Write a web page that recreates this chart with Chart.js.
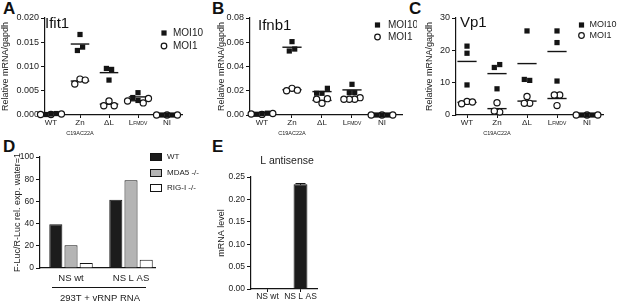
<!DOCTYPE html>
<html><head><meta charset="utf-8">
<script src="https://cdn.jsdelivr.net/npm/chart.js@4.4.1/dist/chart.umd.min.js"></script>
<style>
html,body{margin:0;padding:0;background:#fff}
body{width:617px;height:303px;position:relative;overflow:hidden;font-family:"Liberation Sans",Arial,sans-serif}
canvas{position:absolute}
.lt{position:absolute;font-weight:bold;font-size:17px;line-height:17px;color:#111}
</style></head><body>
<div class="lt" style="left:3px;top:0px">A</div>
<div class="lt" style="left:212px;top:0px">B</div>
<div class="lt" style="left:409px;top:0px">C</div>
<div class="lt" style="left:3px;top:138px">D</div>
<div class="lt" style="left:212px;top:138px">E</div>
<canvas id="cA" width="212" height="145" style="left:0;top:0"></canvas>
<canvas id="cB" width="212" height="145" style="left:205px;top:0"></canvas>
<canvas id="cC" width="207" height="145" style="left:410px;top:0"></canvas>
<canvas id="cD" width="205" height="158" style="left:0;top:145px"></canvas>
<canvas id="cE" width="130" height="158" style="left:205px;top:145px"></canvas>
<script>
// ---------- data ----------
const categories = ['WT', 'Zn', 'ΔL', 'L', 'NI'];
const categorySubs = ['', 'C19AC22A', '', 'FMDV', ''];
const seriesNames = ['MOI10', 'MOI1'];

const ifit1_moi10 = [[0.0002, 0.0001, 0.0003], [0.0140, 0.0166, 0.0133], [0.0094, 0.0072, 0.0096], [0.0030, 0.0046, 0.0036], [0, 0, 0]];
const ifit1_moi1  = [[0.0001, 0.0002, 0.0001], [0.0074, 0.0064, 0.0072], [0.0029, 0.0019, 0.0019], [0.0025, 0.0029, 0.0034], [0, 0, 0]];
const ifnb1_moi10 = [[0.0010, 0.0006, 0.0015], [0.0544, 0.0605, 0.0528], [0.0179, 0.0180, 0.0220], [0.0253, 0.0184, 0.0184], [0, 0, 0]];
const ifnb1_moi1  = [[0.0008, 0.0012, 0.0005], [0.0220, 0.0200, 0.0205], [0.0135, 0.0096, 0.0130], [0.0143, 0.0130, 0.0130, 0.0130], [0, 0, 0]];
const vp1_moi10   = [[21.3, 19.1, 9.3], [15.6, 14.7, 8.1], [26.0, 10.7, 11.0], [26.0, 22.4, 10.5], [0, 0, 0]];
const vp1_moi1    = [[4.2, 3.5, 4.0], [3.8, 0.9, 1.2], [5.7, 3.6, 3.6], [6.2, 6.2, 2.9], [0, 0, 0]];

const dGroups = ['NS wt', 'NS L AS'];
const dSeries = ['WT', 'MDA5 -/-', 'RIG-I -/-'];
const dWT    = [39.5, 61.5];
const dMDA5  = [20.5, 79];
const dRIGI  = [4.5, 7.5];
const dYTitle = 'F-Luc/R-Luc rel. exp. water=1';
const dXTitle = '293T + vRNP RNA';

const eGroups = ['NS wt', 'NS L AS'];
const eValues = [0.0008, 0.234];
const eErrors = [0.0003, 0.0015];
const eTitle = 'L antisense';

// ---------- helpers ----------
const FONT = '"Liberation Sans", Arial, Helvetica, sans-serif';
Chart.defaults.font.family = FONT;
Chart.defaults.color = '#222';
Chart.defaults.animation = false;
const INK = '#141414';
const mean = a => a.reduce((s, v) => s + v, 0) / a.length;

function swarm(seriesVals, thr) {
  const placed = [];
  let gid = 0;
  const out = seriesVals.map(vals => vals.map(v => {
    const near = placed.filter(p => Math.abs(p.v - v) < thr);
    let c = null;
    for (const cand of [0, -1, 1, -2, 2]) { if (!near.some(p => p.c === cand)) { c = cand; break; } }
    if (c === null) c = 0;
    let g;
    if (near.length) {
      g = near[0].g;
      near.forEach(p => { const old = p.g; placed.forEach(q => { if (q.g === old) q.g = g; }); });
    } else g = gid++;
    const rec = { v, c, g };
    placed.push(rec);
    return rec;
  }));
  const gm = {};
  placed.forEach(p => { (gm[p.g] = gm[p.g] || []).push(p); });
  Object.values(gm).forEach(arr => { const m = mean(arr.map(p => p.c)); arr.forEach(p => p.off = p.c - m); });
  return out.map(a => a.map(p => p.off));
}

function axisStyle(extra) {
  return Object.assign({
    grid: { display: true, drawOnChartArea: false, drawTicks: true, tickLength: 4, color: INK, lineWidth: 1 },
    border: { display: true, color: INK, width: 1.2 }
  }, extra);
}

function dotChart(id, o) {
  const thr = 6 / 97 * (o.ymax - o.ymin);
  const p10 = [], p1 = [], lines = [];
  categories.forEach((c, i) => {
    const offs = swarm([o.s10[i], o.s1[i]], thr);
    o.s10[i].forEach((v, j) => p10.push({ x: i + 1 + offs[0][j] * 0.18, y: v }));
    o.s1[i].forEach((v, j) => p1.push({ x: i + 1 + offs[1][j] * 0.18, y: v }));
    [o.s10[i], o.s1[i]].forEach(arr => {
      const m = mean(arr);
      lines.push({ type: 'line', data: [{ x: i + 1 - 0.32, y: m }, { x: i + 1 + 0.32, y: m }],
        borderColor: INK, borderWidth: 1.4, pointRadius: 0, clip: false, order: 3 });
    });
  });
  const deco = {
    id: 'deco' + id,
    afterDraw(chart) {
      const ctx = chart.ctx, xs = chart.scales.x, y0 = chart.chartArea.bottom;
      ctx.save();
      ctx.fillStyle = '#222';
      ctx.textBaseline = 'middle';
      categories.forEach((lab, i) => {
        const x = xs.getPixelForValue(i + 1);
        if (i === 3) {
          ctx.font = '8px ' + FONT; const w1 = ctx.measureText(lab).width;
          ctx.font = '5px ' + FONT; const w2 = ctx.measureText(categorySubs[i]).width;
          const sx = x - (w1 + w2) / 2;
          ctx.textAlign = 'left';
          ctx.font = '8px ' + FONT; ctx.fillText(lab, sx, y0 + 8);
          ctx.font = '5px ' + FONT; ctx.fillText(categorySubs[i], sx + w1, y0 + 8.5);
        } else {
          ctx.textAlign = 'center';
          ctx.font = '8px ' + FONT; ctx.fillText(lab, x, y0 + 8);
          if (categorySubs[i]) { ctx.font = '5.5px ' + FONT; ctx.fillText(categorySubs[i], x, y0 + 18); }
        }
      });
      // panel title
      ctx.fillStyle = '#111';
      ctx.textAlign = 'left'; ctx.textBaseline = 'alphabetic';
      ctx.font = '15px ' + FONT;
      ctx.fillText(o.title, o.tx, o.ty);
      // legend
      const L = o.leg;
      ctx.fillStyle = INK;
      ctx.fillRect(L.x - 2.6, L.y1 - 2.6, 5.2, 5.2);
      ctx.beginPath(); ctx.arc(L.x, L.y2, 2.8, 0, Math.PI * 2);
      ctx.fillStyle = '#fff'; ctx.fill(); ctx.lineWidth = 1.2; ctx.strokeStyle = INK; ctx.stroke();
      ctx.fillStyle = '#222'; ctx.font = (L.fs || 10) + 'px ' + FONT; ctx.textBaseline = 'middle';
      ctx.fillText(seriesNames[0], L.tx, L.y1);
      ctx.fillText(seriesNames[1], L.tx, L.y2);
      ctx.restore();
    }
  };
  new Chart(document.getElementById(id), {
    type: 'scatter',
    data: { datasets: [
      ...lines,
      { label: seriesNames[0], data: p10, pointStyle: 'rect', pointRadius: 3.7, backgroundColor: INK, borderColor: INK, borderWidth: 0, clip: false, order: 1 },
      { label: seriesNames[1], data: p1, pointStyle: 'circle', pointRadius: 3.1, backgroundColor: '#fff', borderColor: INK, borderWidth: 1.2, clip: false, order: 2 }
    ] },
    options: {
      responsive: false, devicePixelRatio: 1,
      layout: { padding: { top: 18, right: o.rpad, left: 0, bottom: 0 } },
      plugins: { legend: { display: false }, tooltip: { enabled: false } },
      scales: {
        x: axisStyle({ type: 'linear', min: o.xmin, max: o.xmax,
          afterBuildTicks: s => { s.ticks = categories.map((c, i) => ({ value: i + 1 })); },
          ticks: { display: false },
          grid: { display: true, drawOnChartArea: false, drawTicks: true, tickLength: 3, color: INK, lineWidth: 1 },
          afterFit: s => { s.height = 30; } }),
        y: axisStyle({ min: o.ymin, max: o.ymax,
          afterBuildTicks: s => { const t = []; for (let k = 0; k <= Math.round((o.ymax - o.ymin) / o.ystep); k++) t.push({ value: o.ymin + k * o.ystep }); s.ticks = t; },
          ticks: { callback: v => Number(v).toFixed(o.dec), font: { size: 9 }, padding: 2, color: '#222' },
          title: { display: true, text: 'Relative mRNA/gapdh', font: { size: 9 }, color: '#222', padding: { top: o.tpad, bottom: 0 } },
          afterFit: s => { s.width = o.yw; } })
      }
    },
    plugins: [deco]
  });
}

dotChart('cA', { s10: ifit1_moi10, s1: ifit1_moi1, ymin: 0, ymax: 0.02, ystep: 0.005, dec: 3,
  xmin: 0.793, xmax: 5.517, yw: 45, rpad: 30, tpad: 0, title: 'Ifit1', tx: 45, ty: 28,
  leg: { x: 164, y1: 33, y2: 46, tx: 173 } });
dotChart('cB', { s10: ifnb1_moi10, s1: ifnb1_moi1, ymin: 0, ymax: 0.08, ystep: 0.02, dec: 2,
  xmin: 0.6, xmax: 5.667, yw: 45, rpad: 15, tpad: 11, title: 'Ifnb1', tx: 53, ty: 30,
  leg: { x: 172.5, y1: 25, y2: 37, tx: 183 } });
dotChart('cC', { s10: vp1_moi10, s1: vp1_moi1, ymin: 0, ymax: 30, ystep: 10, dec: 0,
  xmin: 0.633, xmax: 5.533, yw: 46, rpad: 14, tpad: 14, title: 'Vp1', tx: 50, ty: 27,
  leg: { x: 171.5, y1: 25, y2: 35.5, tx: 179.5, fs: 9 } });

// ---------- panel D ----------
const dDeco = {
  id: 'dDeco',
  afterDraw(chart) {
    const ctx = chart.ctx;
    ctx.save();
    const cols = ['#1c1c1c', '#b4b4b4', '#ffffff'];
    const ys = [12, 28, 43];
    ctx.font = '8px ' + FONT; ctx.textBaseline = 'middle'; ctx.textAlign = 'left';
    dSeries.forEach((n, i) => {
      ctx.fillStyle = cols[i]; ctx.fillRect(150, ys[i] - 4, 12, 8);
      ctx.strokeStyle = INK; ctx.lineWidth = 1; ctx.strokeRect(150.5, ys[i] - 3.5, 11, 7);
      ctx.fillStyle = '#222'; ctx.fillText(n, 167, ys[i]);
    });
    ctx.strokeStyle = INK; ctx.lineWidth = 1;
    ctx.beginPath(); ctx.moveTo(52, 142.5); ctx.lineTo(146, 142.5); ctx.stroke();
    ctx.fillStyle = '#222'; ctx.font = '9.5px ' + FONT; ctx.textAlign = 'center';
    ctx.fillText(dXTitle, 100, 153.5);
    ctx.restore();
  }
};
new Chart(document.getElementById('cD'), {
  type: 'bar',
  data: { datasets: [
    { label: dSeries[0], data: dWT.map((v, i) => ({ x: i + 1, y: v })), backgroundColor: '#1c1c1c' },
    { label: dSeries[1], data: dMDA5.map((v, i) => ({ x: i + 1, y: v })), backgroundColor: '#b4b4b4' },
    { label: dSeries[2], data: dRIGI.map((v, i) => ({ x: i + 1, y: v })), backgroundColor: '#ffffff' }
  ].map(d => Object.assign(d, { borderColor: INK, borderWidth: 1, categoryPercentage: 0.76, barPercentage: 0.86 })) },
  options: {
    responsive: false, devicePixelRatio: 1,
    layout: { padding: { top: 12, right: 50, left: 0, bottom: 0 } },
    plugins: { legend: { display: false }, tooltip: { enabled: false } },
    scales: {
      x: axisStyle({ type: 'linear', min: 0.483, max: 2.4, offset: false,
        afterBuildTicks: s => { s.ticks = dGroups.map((g, i) => ({ value: i + 1 })); },
        ticks: { callback: (v, i) => dGroups[i], font: { size: 9.5 }, padding: 5, maxRotation: 0, autoSkip: false, color: '#222' },
        grid: { display: true, drawOnChartArea: false, drawTicks: false, color: INK, offset: false },
        afterFit: s => { s.height = 35; } }),
      y: axisStyle({ min: 0, max: 100,
        ticks: { stepSize: 20, font: { size: 8.5 }, padding: 2, color: '#222' },
        title: { display: true, text: dYTitle, font: { size: 9 }, color: '#222', padding: { top: 12, bottom: 0 } },
        afterFit: s => { s.width = 40; } })
    }
  },
  plugins: [dDeco]
});

// ---------- panel E ----------
const eDeco = {
  id: 'eDeco',
  afterDatasetsDraw(chart) {
    const ctx = chart.ctx, ys = chart.scales.y, meta = chart.getDatasetMeta(0);
    ctx.save();
    ctx.strokeStyle = INK; ctx.lineWidth = 1;
    meta.data.forEach((bar, i) => {
      const yt = ys.getPixelForValue(eValues[i] + eErrors[i]);
      const yb = ys.getPixelForValue(eValues[i] - eErrors[i]);
      ctx.beginPath(); ctx.moveTo(bar.x, yt); ctx.lineTo(bar.x, yb);
      ctx.moveTo(bar.x - 5, yt); ctx.lineTo(bar.x + 5, yt); ctx.stroke();
    });
    ctx.fillStyle = '#222'; ctx.font = '10.5px ' + FONT; ctx.textAlign = 'center'; ctx.textBaseline = 'middle';
    ctx.fillText(eTitle, 82, 16);
    ctx.restore();
  }
};
new Chart(document.getElementById('cE'), {
  type: 'bar',
  data: { labels: eGroups, datasets: [{ label: eTitle, data: eValues, backgroundColor: '#1c1c1c', borderColor: INK, borderWidth: 1, barPercentage: 0.42, categoryPercentage: 1 }] },
  options: {
    responsive: false, devicePixelRatio: 1,
    layout: { padding: { top: 32, right: 18, left: 0, bottom: 0 } },
    plugins: { legend: { display: false }, tooltip: { enabled: false } },
    scales: {
      x: axisStyle({ ticks: { font: { size: 8.5 }, padding: 0, maxRotation: 0, autoSkip: false, color: '#222' },
        grid: { display: true, drawOnChartArea: false, drawTicks: true, tickLength: 3, color: INK, offset: false },
        afterFit: s => { s.height = 14; } }),
      y: axisStyle({ min: 0, max: 0.25,
        afterBuildTicks: s => { s.ticks = [0, 0.05, 0.1, 0.15, 0.2, 0.25].map(v => ({ value: v })); },
        ticks: { callback: v => Number(v).toFixed(2), font: { size: 8.5 }, padding: 2, color: '#222' },
        title: { display: true, text: 'mRNA level', font: { size: 9 }, color: '#222', padding: { top: 11, bottom: 0 } },
        afterFit: s => { s.width = 46; } })
    }
  },
  plugins: [eDeco]
});
</script>
</body></html>
